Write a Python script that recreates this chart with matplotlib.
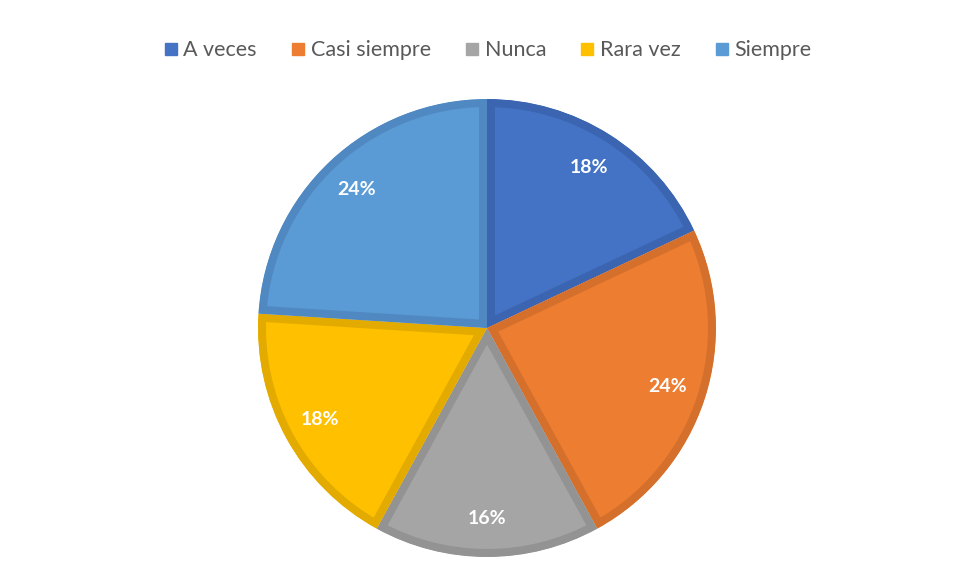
import matplotlib.pyplot as plt
from matplotlib.lines import Line2D

# DATOS
categorias = ["A veces", "Casi siempre", "Nunca", "Rara vez", "Siempre"]
porcentajes = [18, 24, 16, 18, 24]
colores = ["#4472C4", "#ED7D31", "#A5A5A5", "#FFC000", "#5B9BD5"]
bordes = ["#3B65B0", "#D4702C", "#939393", "#E3AB00", "#5089C2"]

plt.rcParams['font.family'] = ['Lato', 'DejaVu Sans']

fig = plt.figure(figsize=(9.56, 5.83), dpi=100)
ax = fig.add_axes([0.2699, 0.0446, 0.479, 0.7856])

wedges, textos, autotextos = ax.pie(
    porcentajes, colors=colores, startangle=90, counterclock=False,
    autopct='%1.0f%%', pctdistance=0.83, radius=1,
    textprops=dict(color='white', fontsize=14, fontweight='bold'))

# Borde interior más oscuro (se recorta al propio sector)
for w, b in zip(wedges, bordes):
    w.set_edgecolor(b)
    w.set_linewidth(11.5)
    w.set_clip_path(w)
    w.set_clip_on(True)

ax.set_xlim(-1, 1)
ax.set_ylim(-1, 1)
ax.set_aspect('equal')

# Leyenda
handles = [Line2D([0], [0], marker='s', linestyle='', markersize=9,
                  markerfacecolor=c, markeredgecolor=c) for c in colores]
fig.legend(handles, categorias, loc='center', bbox_to_anchor=(0.507, 0.914),
           ncol=5, frameon=False, fontsize=15.5, handletextpad=0.0,
           handlelength=1.2, columnspacing=1.3, labelcolor='#595959')

fig.savefig("out.png", dpi=100)
